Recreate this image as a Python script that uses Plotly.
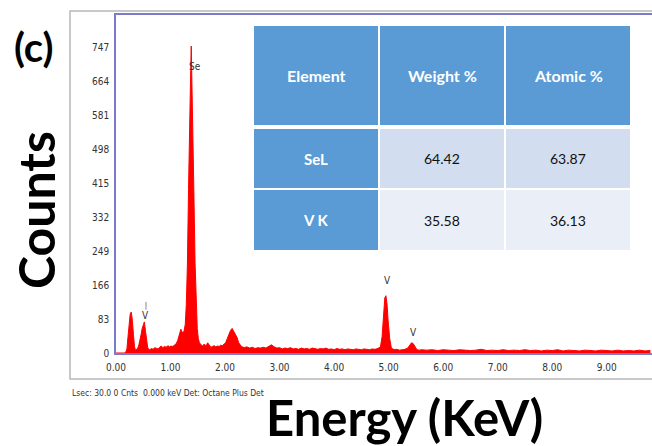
import plotly.graph_objects as go

# ---------------- data ----------------
energy_kev = [
    0.00, 0.15, 0.18, 0.20, 0.22, 0.24, 0.26, 0.28, 0.30, 0.32, 0.34, 0.36, 0.38,
    0.40, 0.42, 0.44, 0.46, 0.48, 0.50, 0.52, 0.54, 0.56, 0.58, 0.60, 0.62, 0.65,
    0.68, 0.71, 0.74, 0.77, 0.80, 0.83, 0.86, 0.89, 0.92, 0.95, 0.98, 1.01, 1.04,
    1.07, 1.10, 1.13, 1.16, 1.19, 1.21, 1.23, 1.25, 1.27, 1.29, 1.31, 1.33, 1.35,
    1.37, 1.38, 1.39, 1.41, 1.43, 1.45, 1.47, 1.49, 1.51, 1.53, 1.56, 1.59, 1.62,
    1.65, 1.68, 1.71, 1.74, 1.77, 1.80, 1.83, 1.86, 1.89, 1.92, 1.95, 1.98, 2.01,
    2.04, 2.07, 2.10, 2.13, 2.16, 2.19, 2.22, 2.25, 2.28,
    2.30, 2.35, 2.40, 2.45, 2.50, 2.55, 2.60, 2.65, 2.70, 2.75, 2.80, 2.85, 2.90,
    2.95, 3.00, 3.05, 3.10, 3.15, 3.20, 3.25, 3.30, 3.35, 3.40, 3.45, 3.50, 3.55,
    3.60, 3.65, 3.70, 3.75, 3.80, 3.85, 3.90, 3.95, 4.00, 4.05, 4.10, 4.15, 4.20,
    4.25, 4.30, 4.35, 4.40, 4.45, 4.50, 4.55, 4.60, 4.65, 4.70, 4.75, 4.80,
    4.85, 4.88, 4.91, 4.93, 4.95, 4.97, 4.99, 5.02, 5.05, 5.10, 5.15, 5.20, 5.25,
    5.30, 5.35, 5.39, 5.42, 5.45, 5.48, 5.52, 5.56,
    5.60, 5.70, 5.80, 5.90, 6.00, 6.10, 6.20, 6.30, 6.40, 6.50, 6.60, 6.70, 6.80,
    6.90, 7.00, 7.10, 7.20, 7.30, 7.40, 7.50, 7.60, 7.70, 7.80, 7.90, 8.00, 8.10,
    8.20, 8.30, 8.40, 8.50, 8.60, 8.70, 8.80, 8.90, 9.00, 9.10, 9.20, 9.30, 9.40,
    9.50, 9.60, 9.70, 9.80, 9.90,
]
counts = [
    0, 0, 2, 10, 40, 75, 95, 100, 80, 45, 15, 6, 8,
    12, 20, 30, 45, 60, 72, 76, 55, 30, 14, 9, 8, 11,
    9, 13, 12, 10, 14, 17, 13, 16, 14, 18, 15, 17, 16,
    20, 22, 30, 45, 58, 52, 48, 55, 70, 120, 220, 400, 620,
    690, 750, 690, 560, 380, 220, 120, 60, 35, 25, 20, 17, 22,
    16, 25, 18, 14, 16, 18, 15, 17, 16, 19, 18, 22, 25,
    35, 45, 55, 60, 52, 45, 38, 25, 18,
    16, 13, 15, 12, 14, 11, 13, 12, 14, 12, 17, 20, 15,
    12, 13, 10, 12, 11, 13, 10, 11, 9, 12, 10, 11, 9,
    12, 10, 9, 11, 10, 12, 9, 10, 8, 11, 9, 10, 8,
    10, 9, 8, 10, 9, 8, 10, 9, 8, 10, 9, 11,
    15, 40, 100, 135, 140, 120, 80, 35, 12, 8, 9, 7, 8,
    9, 12, 20, 25, 23, 15, 8, 7,
    8, 7, 8, 6, 8, 7, 6, 8, 7, 6, 7, 9, 6,
    7, 6, 8, 6, 7, 6, 8, 6, 7, 5, 7, 6,
    8, 5, 7, 6, 5, 7, 6, 5, 7, 6, 5, 7, 5,
    6, 5, 7, 5, 6,
]

x_ticks = [0, 1, 2, 3, 4, 5, 6, 7, 8, 9]
x_ticklabels = ["0.00", "1.00", "2.00", "3.00", "4.00", "5.00", "6.00", "7.00", "8.00", "9.00"]
y_ticks = [0, 83, 166, 249, 332, 415, 498, 581, 664, 747]

peak_labels = ["Se", "V", "V", "V"]
peak_x = [1.44, 0.55, 4.97, 5.45]
peak_y = [700, 92, 177, 49]

table_header = ["Element", "Weight %", "Atomic %"]
table_elements = ["SeL", "V K"]
table_weight = ["64.42", "35.58"]
table_atomic = ["63.87", "36.13"]

# ---------------- layout helpers ----------------
W, H = 652, 446
PL, PT, PR, PB = 116, 15, 652, 353          # plot area in screen pixels
L, T, R, B = PL, PT, W - PR, H - PB
PW, PH = PR - PL, PB - PT


def px(xp):
    return (xp - PL) / PW


def py(yp):
    return (PB - yp) / PH


NARROW = "DejaVu Sans Condensed, Liberation Sans Narrow, Arial Narrow, sans-serif"
BOLD = "Lato, Open Sans, sans-serif"

fig = go.Figure()
fig.add_trace(go.Scatter(
    x=energy_kev, y=counts, mode="lines", fill="tozeroy",
    line=dict(color="#FF0000", width=1), fillcolor="#FF0000",
    hoverinfo="skip", showlegend=False,
))

shapes = []
annotations = []


def ann(x, y, text, font, xref="paper", yref="paper", **kw):
    d = dict(x=x, y=y, xref=xref, yref=yref, text=text, showarrow=False, font=font,
             xanchor="center", yanchor="middle")
    d.update(kw)
    annotations.append(d)


# outer gray frame
shapes.append(dict(type="rect", xref="paper", yref="paper",
                   x0=px(70), x1=px(670), y0=py(379), y1=py(11),
                   line=dict(color="#B8B8B8", width=1.5), layer="below"))

# peak labels
lbl_font = dict(family=NARROW, size=10, color="#333333")
for t, xv, yv in zip(peak_labels, peak_x, peak_y):
    ann(xv, yv, t, lbl_font, xref="x", yref="y")
shapes.append(dict(type="line", xref="x", yref="y", x0=0.55, x1=0.55, y0=106, y1=125,
                   line=dict(color="#888888", width=1)))

# table
col_x = [(254, 378), (380, 504), (506, 630)]
row_y = [(26, 125), (129, 188), (190, 250)]
header_fill = "#5B9BD5"
row_fills = ["#D2DEEF", "#E9EEF7"]
hdr_font = dict(family=BOLD, size=16, color="white")
for ci, (x0, x1) in enumerate(col_x):
    shapes.append(dict(type="rect", xref="paper", yref="paper",
                       x0=px(x0), x1=px(x1), y0=py(row_y[0][1]), y1=py(row_y[0][0]),
                       fillcolor=header_fill, line=dict(width=0)))
    ann(px((x0 + x1) / 2), py((row_y[0][0] + row_y[0][1]) / 2),
        "<b>" + table_header[ci] + "</b>", hdr_font)
for ri in range(2):
    y0, y1 = row_y[ri + 1]
    rowvals = [table_elements[ri], table_weight[ri], table_atomic[ri]]
    for ci, (x0, x1) in enumerate(col_x):
        fill = header_fill if ci == 0 else row_fills[ri]
        shapes.append(dict(type="rect", xref="paper", yref="paper",
                           x0=px(x0), x1=px(x1), y0=py(y1), y1=py(y0),
                           fillcolor=fill, line=dict(width=0)))
        if ci == 0:
            txt, fnt = "<b>" + rowvals[ci] + "</b>", dict(family=BOLD, size=15, color="white")
        else:
            txt, fnt = rowvals[ci], dict(family=BOLD, size=14, color="#111111")
        ann(px((x0 + x1) / 2), py((y0 + y1) / 2), txt, fnt)

# texts
ann(px(33), py(47), "<b>(c)</b>", dict(family=BOLD, size=40, color="black"))
ann(px(36), py(210), "<b>Counts</b>", dict(family=BOLD, size=50, color="black"),
    textangle=-90)
ann(px(404), py(417), "<b>Energy (KeV)</b>", dict(family=BOLD, size=49, color="black"))
ann(px(70), py(393), "Lsec: 30.0 0 Cnts  0.000 keV Det: Octane Plus Det",
    dict(family=NARROW, size=8.5, color="#333333"), xanchor="left")

axis_font = dict(family=NARROW, size=10, color="#333333")
fig.update_layout(
    width=W, height=H,
    margin=dict(l=L, r=R, t=T, b=B),
    paper_bgcolor="white", plot_bgcolor="white",
    shapes=shapes, annotations=annotations,
    xaxis=dict(range=[0, 9.83], tickvals=x_ticks, ticktext=x_ticklabels, showgrid=False,
               zeroline=False, showline=True, linecolor="#7B7BCC", linewidth=2, mirror=True,
               ticks="", tickfont=axis_font, ticklabelstandoff=4),
    yaxis=dict(range=[0, 826], tickvals=y_ticks, showgrid=False, zeroline=False,
               showline=True, linecolor="#7B7BCC", linewidth=1.5, ticks="",
               tickfont=axis_font, ticklabelstandoff=3),
)

# remove the default 8px page margin so the figure sits at the window's corner
fig.write_html("out.html", config={"displayModeBar": False},
               post_script="document.body.style.margin='0px';")
